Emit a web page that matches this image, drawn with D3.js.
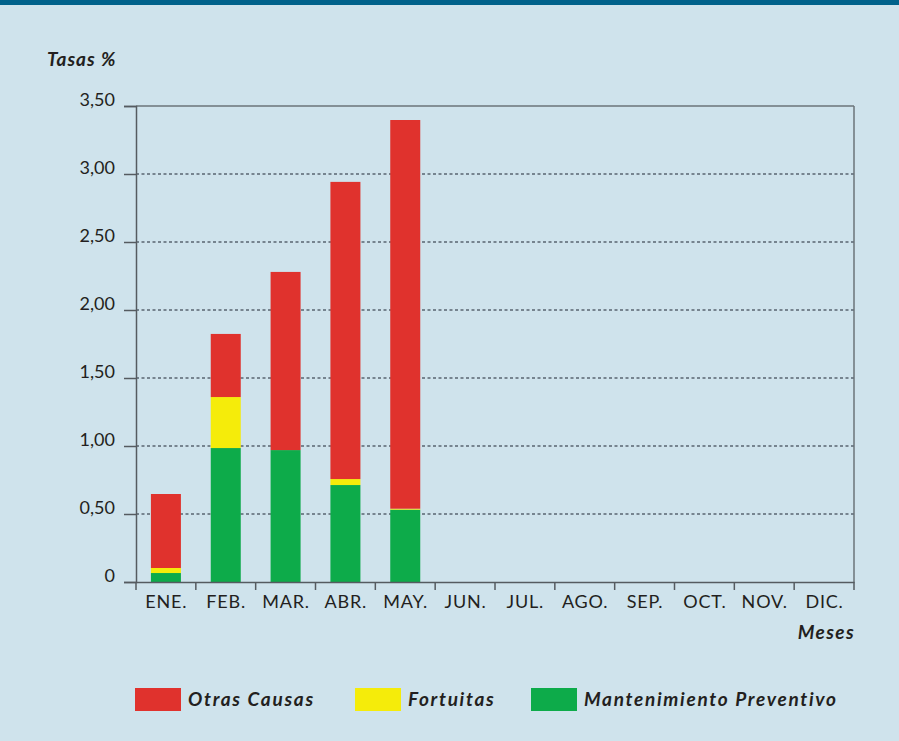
<!DOCTYPE html>
<html>
<head>
<meta charset="utf-8">
<script src="https://cdn.jsdelivr.net/npm/d3@7"></script>
<style>
  body { margin: 0; background: #cfe3ec; }
  svg text { font-family: "Gill Sans", Lato, "Open Sans", sans-serif; fill: #231f20; }
</style>
</head>
<body>
<div id="chart"></div>
<script>
// data
const months = ["ENE.", "FEB.", "MAR.", "ABR.", "MAY.", "JUN.", "JUL.", "AGO.", "SEP.", "OCT.", "NOV.", "DIC."];
const mantenimiento = [0.066, 0.985, 0.97, 0.713, 0.532];
const fortuitas = [0.037, 0.375, 0, 0.044, 0.007];
const otras = [0.544, 0.464, 1.31, 2.185, 2.858];
const yTicks = [0, 0.5, 1, 1.5, 2, 2.5, 3, 3.5];
const seriesNames = ["Mantenimiento Preventivo", "Fortuitas", "Otras Causas"];
const colors = {"Otras Causas": "#e0322d", "Fortuitas": "#f5ec0a", "Mantenimiento Preventivo": "#0dab4a"};

const W = 899, H = 741;
const margin = {top: 106, right: 45, bottom: 159, left: 136},
    width = W - margin.left - margin.right,
    height = H - margin.top - margin.bottom;

const root = d3.select("#chart")
  .append("svg")
    .attr("width", W)
    .attr("height", H);

root.append("rect").attr("width", W).attr("height", H).attr("fill", "#cfe3ec");
root.append("rect").attr("width", W).attr("height", 5).attr("fill", "#00628b");

const svg = root.append("g")
    .attr("transform", `translate(${margin.left},${margin.top})`);

const x = d3.scaleBand().domain(months).range([0, width]);
const y = d3.scaleLinear().domain([0, 3.5]).range([height, 0]);

// dotted grid
svg.selectAll(".grid")
  .data(yTicks.filter(d => d > 0 && d < 3.5))
  .enter().append("line")
    .attr("x1", 0).attr("x2", width)
    .attr("y1", d => y(d)).attr("y2", d => y(d))
    .attr("stroke", "#5a6670")
    .attr("stroke-width", 1.3)
    .attr("stroke-dasharray", "3,2.5");

// frame top + right
svg.append("line").attr("x1", 0).attr("x2", width).attr("y1", 0).attr("y2", 0)
  .attr("stroke", "#6b747a").attr("stroke-width", 1.5);
svg.append("line").attr("x1", width).attr("x2", width).attr("y1", 0).attr("y2", height)
  .attr("stroke", "#6b747a").attr("stroke-width", 1.5);

// stacked bars
const rows = months.slice(0, otras.length).map((m, i) => ({
  month: m,
  "Mantenimiento Preventivo": mantenimiento[i],
  "Fortuitas": fortuitas[i],
  "Otras Causas": otras[i]
}));
const stack = d3.stack().keys(seriesNames)(rows);
const barW = 30;

svg.selectAll(".serie")
  .data(stack)
  .enter().append("g")
    .attr("fill", d => colors[d.key])
  .selectAll("rect")
  .data(d => d)
  .enter().append("rect")
    .attr("x", d => x(d.data.month) + x.bandwidth() / 2 - barW / 2)
    .attr("y", d => y(d[1]))
    .attr("width", barW)
    .attr("height", d => y(d[0]) - y(d[1]));

// axes
const yAxis = svg.append("g")
  .call(d3.axisLeft(y).tickValues(yTicks).tickSize(12)
    .tickFormat(d => d === 0 ? "0" : d3.format(".2f")(d).replace(".", ",")));
yAxis.select(".domain").attr("stroke", "#555b60").attr("stroke-width", 1.5);
yAxis.selectAll(".tick line").attr("stroke", "#555b60").attr("stroke-width", 1.5);
yAxis.selectAll(".tick text")
  .attr("x", -21).attr("dy", "-0.05em")
  .style("font-size", "18px");

const xAxis = svg.append("g")
  .attr("transform", `translate(0, ${height})`)
  .call(d3.axisBottom(x).tickSize(0).tickSizeOuter(0));
xAxis.select(".domain").attr("stroke", "#555b60").attr("stroke-width", 1.5);
xAxis.selectAll(".tick text").attr("y", 13)
  .attr("dx", "0.4")
  .style("font-size", "18px").style("letter-spacing", "0.8px");

// band separator ticks
svg.selectAll(".sep")
  .data(d3.range(months.length + 1))
  .enter().append("line")
    .attr("x1", d => d * x.step()).attr("x2", d => d * x.step())
    .attr("y1", height).attr("y2", height + 8)
    .attr("stroke", "#555b60").attr("stroke-width", 1.5);

// axis titles
root.append("text")
  .attr("x", 47).attr("y", 66)
  .style("font-size", "19px").style("font-weight", "bold").style("font-style", "italic")
  .style("letter-spacing", "1px")
  .text("Tasas %");

root.append("text")
  .attr("x", margin.left + width + 1).attr("y", 639)
  .attr("text-anchor", "end")
  .style("font-size", "19px").style("font-weight", "bold").style("font-style", "italic")
  .style("letter-spacing", "1.4px")
  .text("Meses");

// legend
const legend = [
  {name: "Otras Causas", x: 135},
  {name: "Fortuitas", x: 355},
  {name: "Mantenimiento Preventivo", x: 531}
];
const lg = root.selectAll(".legend")
  .data(legend)
  .enter().append("g")
    .attr("transform", d => `translate(${d.x},688)`);
lg.append("rect")
  .attr("width", 46).attr("height", 23)
  .attr("fill", d => colors[d.name]);
lg.append("text")
  .attr("x", 53).attr("y", 18)
  .style("font-size", "19px").style("font-weight", "bold").style("font-style", "italic")
  .style("letter-spacing", "1.7px")
  .text(d => d.name);
</script>
</body>
</html>
